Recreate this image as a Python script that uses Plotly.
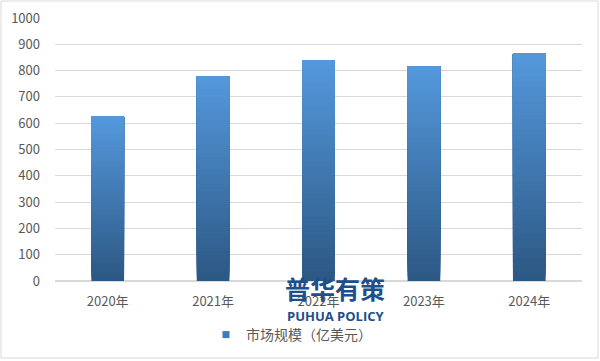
import plotly.graph_objects as go

categories = ["2020年", "2021年", "2022年", "2023年", "2024年"]
values = [626, 778, 839, 816, 865]
series_name = "市场规模（亿美元）"
y_ticks = [0, 100, 200, 300, 400, 500, 600, 700, 800, 900, 1000]

FONT = "Noto Sans CJK SC, Noto Sans, sans-serif"
bottom_rgb = (44, 88, 132)
top_rgb = (84, 152, 220)
N = 48

def lerp(a, b, t):
    return tuple(round(a[i] + (b[i] - a[i]) * t) for i in range(3))

fig = go.Figure()
# gradient bars built from overlaid slices of each value
for k in range(N):
    t = k / (N - 1)
    c = lerp(bottom_rgb, top_rgb, t)
    bases = [v * k / N for v in values]
    heights = [v - b for v, b in zip(values, bases)]
    fig.add_trace(go.Bar(
        x=categories, y=heights, base=bases, name=series_name,
        marker=dict(color="rgb(%d,%d,%d)" % c, line=dict(width=0)),
        width=0.31, showlegend=False, hoverinfo="skip"))
# legend entry
fig.add_trace(go.Scatter(
    x=[categories[0]], y=[None], mode="markers", name=series_name,
    marker=dict(symbol="square", size=7, color="rgb(62,124,188)"),
    showlegend=True, hoverinfo="skip"))

fig.update_layout(
    width=600, height=361,
    margin=dict(l=55, r=18, t=18, b=80, autoexpand=False),
    paper_bgcolor="white", plot_bgcolor="white",
    barmode="overlay",
    font=dict(family=FONT, size=13, color="#595959"),
    showlegend=True,
    legend=dict(orientation="h", x=(206 - 55) / 527, xanchor="left", y=(281 - 335) / 263,
                yanchor="middle", font=dict(size=14, color="#595959"), itemwidth=30,
                bgcolor="rgba(0,0,0,0)"),
    xaxis=dict(type="category", showgrid=False, showline=False, zeroline=False,
               automargin=False,
               ticks="", tickfont=dict(size=13, color="#595959"), ticklabelstandoff=11),
    yaxis=dict(range=[0, 1000], tickvals=y_ticks, showgrid=True, gridcolor="#d9d9d9",
               gridwidth=1, zeroline=True, zerolinecolor="#d9d9d9", showline=False,
               automargin=False,
               ticks="", tickfont=dict(size=13, color="#595959"), ticklabelstandoff=14),
)

# outer border
fig.add_shape(type="rect", xref="paper", yref="paper",
              x0=(1 - 55) / 527, x1=(598 - 55) / 527, y0=(281 - 358) / 263, y1=(281 - 1) / 263,
              line=dict(color="#d9d9d9", width=1), fillcolor="rgba(0,0,0,0)", layer="below")

# watermark
fig.add_annotation(xref="paper", yref="paper", x=(335 - 55) / 527, y=(281 - 288) / 263,
                   text="<b>普华有策</b>", showarrow=False, xanchor="center", yanchor="middle",
                   font=dict(family=FONT, size=25, color="#1d4f8c"))
fig.add_annotation(xref="paper", yref="paper", x=(336 - 55) / 527, y=(281 - 316) / 263,
                   text="<b>PUHUA POLICY</b>", showarrow=False, xanchor="center", yanchor="middle",
                   font=dict(family="Open Sans, sans-serif", size=13, color="#1d4f8c"))

fig.write_html("out.html", config={"displayModeBar": False},
               post_script="document.body.style.margin='0';document.body.style.overflow='hidden';")
